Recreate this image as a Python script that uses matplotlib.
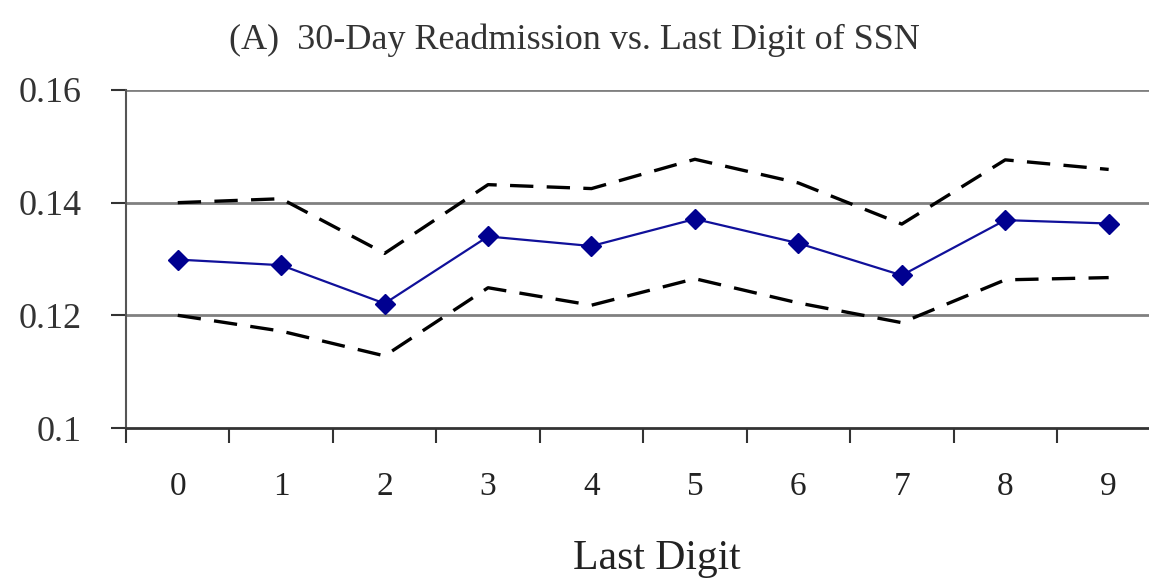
import numpy as np
import matplotlib.pyplot as plt

digits = [0, 1, 2, 3, 4, 5, 6, 7, 8, 9]
rate = [0.1299, 0.1289, 0.1221, 0.1340, 0.1323, 0.1371, 0.1328, 0.1271, 0.1369, 0.1363]
upper = [0.1400, 0.1407, 0.1310, 0.1432, 0.1425, 0.1477, 0.1435, 0.1362, 0.1476, 0.1459]
lower = [0.1200, 0.1172, 0.1128, 0.1249, 0.1218, 0.1265, 0.1222, 0.1187, 0.1263, 0.1267]
yticks = [0.1, 0.12, 0.14, 0.16]
ytick_labels = ["0.1", "0.12", "0.14", "0.16"]

plt.rcParams['font.family'] = ['Liberation Serif', 'DejaVu Serif']

fig = plt.figure(figsize=(11.49, 5.78), dpi=100)
ax = fig.add_axes([0.1097, 0.2595, 0.8903, 0.5848])

# horizontal grid lines
for y in yticks[1:]:
    ax.axhline(y, color='#808080', linewidth=2.0, zorder=1)

ax.plot(digits, upper, color='black', linewidth=2.4, dashes=(7, 4), zorder=2)
ax.plot(digits, lower, color='black', linewidth=2.4, dashes=(7, 4), zorder=2)
ax.plot(digits, rate, color='#10109a', linewidth=1.6, marker='D', markersize=10,
        markerfacecolor='#000090', markeredgecolor='#000090', zorder=3)

ax.set_xlim(-0.5, 9.39)
ax.set_ylim(0.1, 0.16)
ax.set_yticks(yticks)
ax.set_yticklabels(ytick_labels)
ax.set_xticks(np.arange(-0.5, 9, 1.0))
ax.set_xticklabels([])
# category labels sit between the tick marks
for d in digits:
    ax.text(d, -0.175, str(d), transform=ax.get_xaxis_transform(), ha='center', va='center',
            fontsize=24, color='#222222')

for s in ['top', 'right']:
    ax.spines[s].set_visible(False)
ax.spines['left'].set_color('#555555')
ax.spines['left'].set_linewidth(1.5)
ax.spines['bottom'].set_color('#333333')
ax.spines['bottom'].set_linewidth(2.0)
ax.tick_params(axis='y', direction='out', length=11, width=1.5, pad=21, labelsize=26, colors='#333333')
ax.tick_params(axis='x', direction='out', length=11, width=1.5, color='#333333')

ax.set_xlabel("Last Digit", fontsize=30, color='#222222')
ax.xaxis.set_label_coords(0.519, -0.33)
fig.text(0.5, 0.931, "(A)  30-Day Readmission vs. Last Digit of SSN", ha='center', va='center',
         fontsize=26, color='#333333')

fig.savefig("out.png", dpi=100)
